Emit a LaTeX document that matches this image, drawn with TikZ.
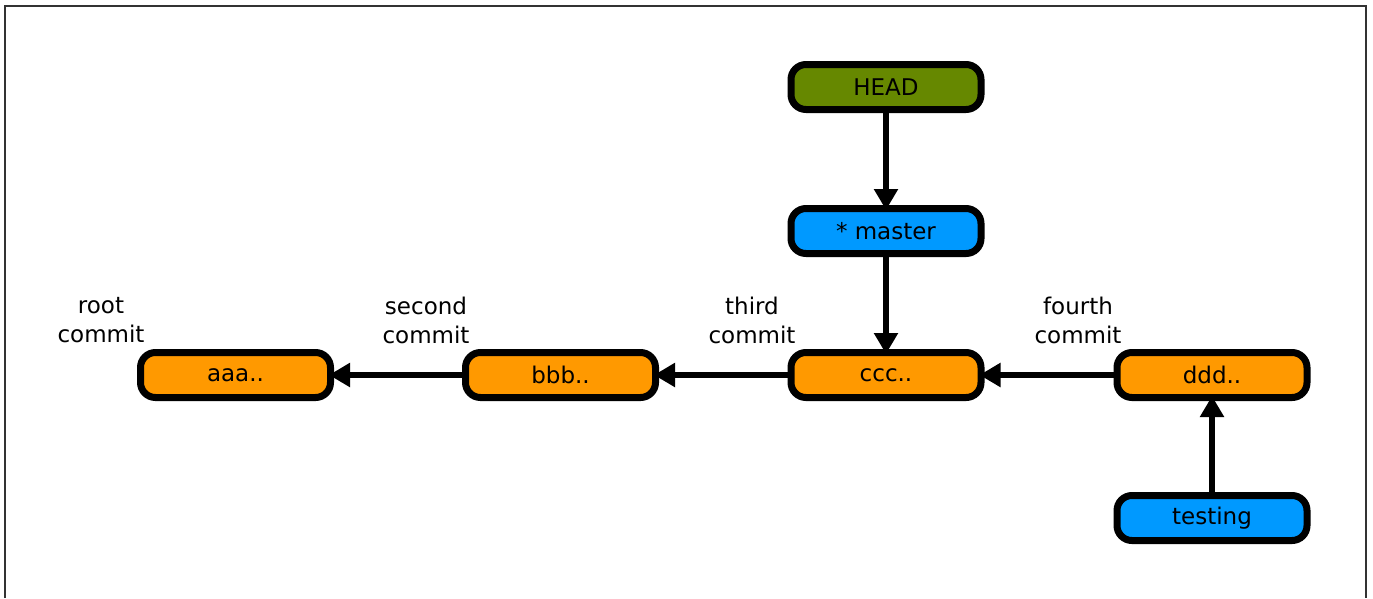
\documentclass[tikz,border=0pt]{standalone}
\usepackage{fontspec}
\setmainfont{DejaVu Sans}
\usetikzlibrary{arrows.meta}
\definecolor{corange}{RGB}{255,153,0}
\definecolor{cblue}{RGB}{0,153,255}
\definecolor{cgreen}{RGB}{102,136,0}
\definecolor{frame}{RGB}{50,50,50}
\tikzset{
  box/.style={draw=black, line width=7pt, rounded corners=15pt, minimum width=190pt, minimum height=45pt, inner sep=0pt, font=\fontsize{23}{28}\selectfont},
  commitbox/.style={box, fill=corange},
  branchbox/.style={box, fill=cblue},
  headbox/.style={box, fill=cgreen},
  lbl/.style={align=center, font=\fontsize{23}{29}\selectfont, inner sep=0pt},
  conn/.style={line width=6pt, shorten >=-5pt, -{Triangle[length=21pt,width=23pt]}},
}
\begin{document}
\begin{tikzpicture}[x=1pt,y=-1pt]
\useasboundingbox (0,0) rectangle (1373,598);
\draw[frame, line width=2pt] (5,598) -- (5,6) -- (1366,6) -- (1366,598);
\node[headbox] (head) at (886,87) {HEAD};
\node[branchbox] (master) at (886,231) {* master};
\node[commitbox] (aaa) at (235.5,375) {aaa..};
\node[commitbox] (bbb) at (560.5,375) {bbb..};
\node[commitbox] (ccc) at (886,375) {ccc..};
\node[commitbox] (ddd) at (1212,375) {ddd..};
\node[branchbox] (testing) at (1212,518) {testing};
\node[lbl] (l1) at (101,320) {root\\commit};
\node[lbl] (l2) at (426,320) {second\\commit};
\node[lbl] (l3) at (752,320) {third\\commit};
\node[lbl] (l4) at (1078,320) {fourth\\commit};
\draw[conn] (head) -- (master);
\draw[conn] (master) -- (ccc);
\draw[conn] (bbb) -- (aaa);
\draw[conn] (ccc) -- (bbb);
\draw[conn] (ddd) -- (ccc);
\draw[conn] (testing) -- (ddd);
\end{tikzpicture}
\end{document}
